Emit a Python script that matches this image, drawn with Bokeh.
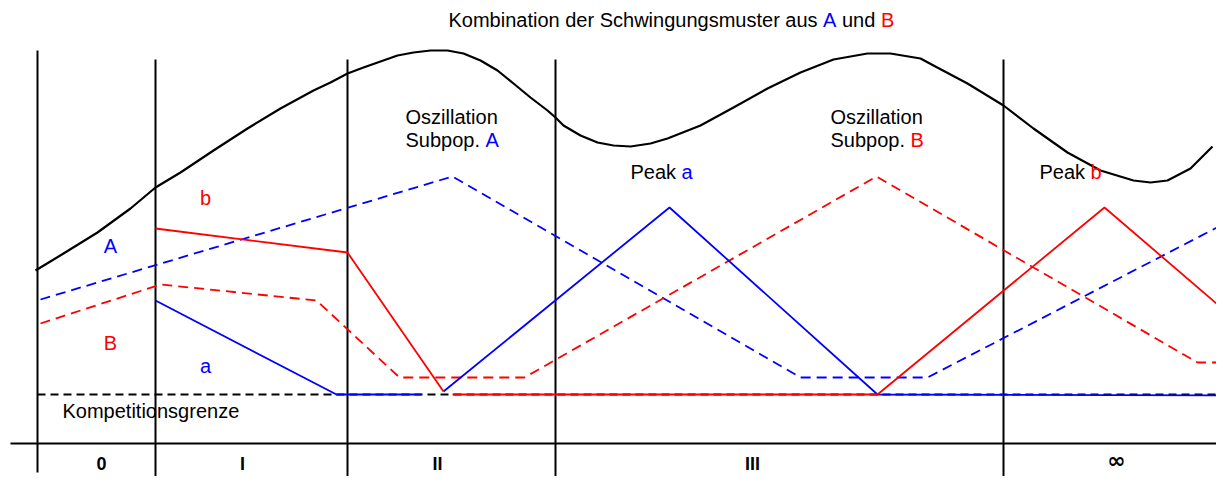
from bokeh.plotting import figure
from bokeh.models import Range1d
from bokeh.core.properties import value
from bokeh.embed import file_html
from bokeh.resources import INLINE

BLUE = "#0000FF"
RED = "#FF0000"
FONT = value("Liberation Sans")

# --- data (pixel space of the original diagram, y downwards) ---
# smooth black curve: combined oscillation
curve_x = [35, 63, 97, 130, 155, 180, 213, 247, 280, 313, 330, 347, 363, 380, 397, 413,
           430, 447, 463, 480, 497, 513, 530, 547, 555, 563, 580, 597, 613, 630, 650,
           667, 700, 733, 767, 800, 833, 867, 890, 920, 933, 967, 1003, 1033, 1067,
           1100, 1133, 1150, 1167, 1190, 1212]
curve_y = [270, 253, 232, 208, 187, 172, 150, 128, 108, 90, 82, 73, 67, 61, 55, 52,
           50, 50, 53, 60, 70, 83, 97, 110, 117, 125, 135, 142, 145, 146, 143,
           138, 125, 107, 88, 72, 59, 53, 53, 58, 65, 83, 105, 128, 152,
           170, 180, 182, 180, 168, 146]

# phase boundaries
phase_x = [37, 155, 347, 555, 1003]
phase_top = [50, 59, 59, 59, 59]
phase_bottom = [472, 479, 479, 479, 479]

# subpopulation A (blue dashed)
popA_x = [40, 452, 800, 927, 1230]
popA_y = [299, 176, 377, 377, 220]
# subpopulation B (red dashed)
popB_x = [40, 160, 316, 399, 524, 876, 1197, 1230]
popB_y = [323, 284, 300, 377, 377, 176, 362, 362]
# type b (red solid)
b1_x = [155, 347, 443]
b1_y = [228, 252, 391]
b2_x = [452, 877]
b2_y = [394, 394]
b3_x = [877, 1104, 1230]
b3_y = [394, 207, 315]
# type a (blue solid)
a1_x = [155, 336, 421]
a1_y = [300, 394, 394]
a2_x = [443, 669, 877, 1230]
a2_y = [391, 207, 394, 395]

# competition limit and time axis
limit_x = [37, 1222]
limit_y = [394, 394]
axis_x = [10, 1230]
axis_y = [443, 443]

phase_labels = ["0", "I", "II", "III"]
phase_label_x = [101, 242, 437, 752]
phase_label_y = [463, 463, 463, 463]
last_phase_label = ["\u221e"]
last_phase_x = [1116]
last_phase_y = [460]

p = figure(width=1216, height=476, x_range=Range1d(0, 1216), y_range=Range1d(476, 0),
           output_backend="svg", toolbar_location=None, min_border=0,
           x_axis_type=None, y_axis_type=None)
p.outline_line_color = None
p.background_fill_color = "white"
p.border_fill_color = "white"

# black curve
p.line(curve_x, curve_y, line_color="black", line_width=2.2, line_join="round")

# vertical phase lines
p.segment(x0=phase_x, y0=phase_top, x1=phase_x, y1=phase_bottom, line_color="black", line_width=2)

# axis line
p.line(axis_x, axis_y, line_color="black", line_width=2.2)

# competition limit
p.line(limit_x, limit_y, line_color="black", line_width=1.8, line_dash="8 5")

# coloured series
p.line(popA_x, popA_y, line_color=BLUE, line_width=1.8, line_dash="10 6")
p.line(popB_x, popB_y, line_color=RED, line_width=1.8, line_dash="10 6")
p.line(a1_x, a1_y, line_color=BLUE, line_width=1.8)
p.line(a2_x, a2_y, line_color=BLUE, line_width=1.8)
p.line(b1_x, b1_y, line_color=RED, line_width=1.8)
p.line(b2_x, b2_y, line_color=RED, line_width=1.8)
p.line(b3_x, b3_y, line_color=RED, line_width=1.8)

def txt(xs, ys, texts, color, align="left", size="20px", style="normal", font=FONT):
    p.text(x=xs, y=ys, text=texts, text_color=color, text_font=font,
           text_font_size=size, text_align=align, text_baseline="alphabetic",
           text_font_style=style)

# title
txt([448, 841.5], [19, 19], ["Kombination der Schwingungsmuster aus", "und"], "black")
txt([822.6], [19], ["A"], BLUE)
txt([880.4], [19], ["B"], RED)

# annotations
txt([405, 405, 830, 830], [116, 139, 116, 139],
    ["Oszillation", "Subpop.", "Oszillation", "Subpop."], "black")
txt([485], [139], ["A"], BLUE)
txt([910], [139], ["B"], RED)
txt([630, 1039], [171, 171], ["Peak", "Peak"], "black")
txt([681], [171], ["a"], BLUE)
txt([1090], [171], ["b"], RED)

txt([110, 205], [245, 365], ["A", "a"], BLUE, align="center")
txt([205, 110], [197, 342], ["b", "B"], RED, align="center")
txt([62], [410], ["Kompetitionsgrenze"], "black")

txt(phase_label_x, phase_label_y, phase_labels, "black", align="center", size="18px", style="bold")
txt(last_phase_x, last_phase_y, last_phase_label, "black", align="center", size="22px",
    style="bold", font=value("DejaVu Sans"))

open("out.html", "w").write(file_html(p, INLINE))
